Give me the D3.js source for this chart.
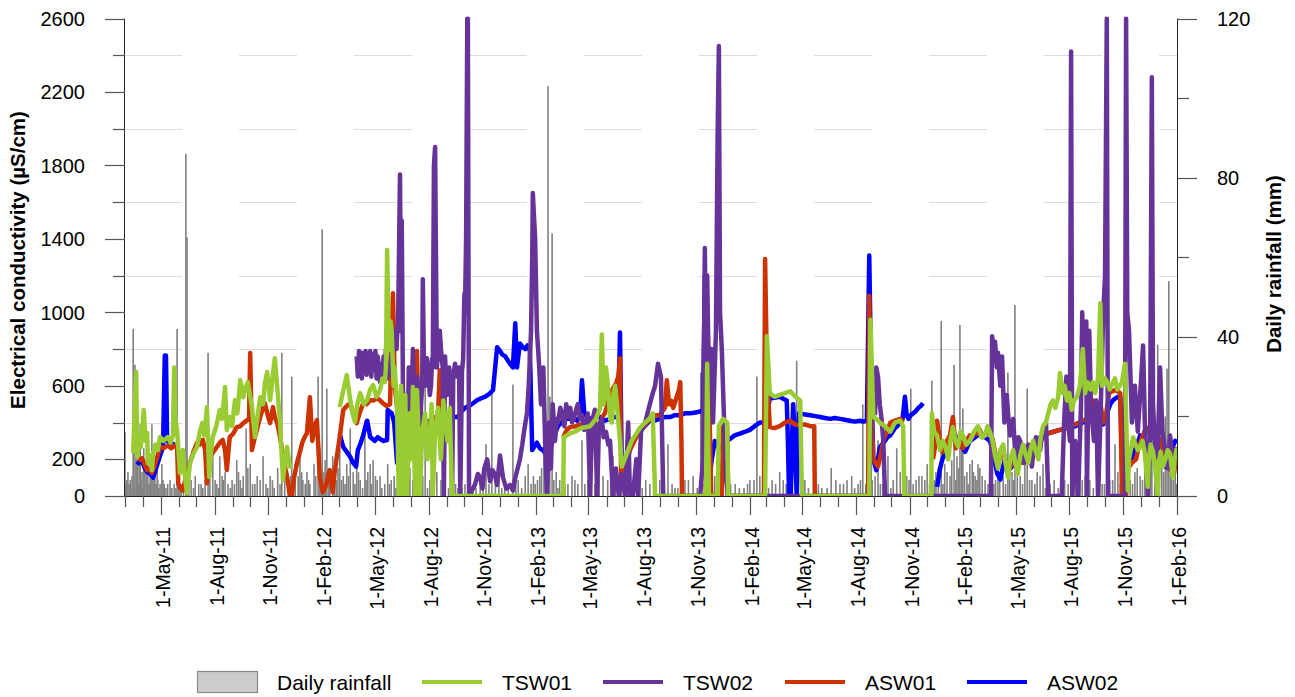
<!DOCTYPE html>
<html><head><meta charset="utf-8">
<script src="https://cdn.jsdelivr.net/npm/d3@7"></script>
<style>body{margin:0;background:#fff}svg text{font-family:"Liberation Sans",Arial,sans-serif;fill:#000}</style>
</head><body><svg id="c" width="1295" height="697"></svg>
<script>
// ---------- data ----------
const startDate = "2011-03-01";
const endDate = "2016-02-01";
const ecTicksMajor = [0, 200, 600, 1000, 1400, 1800, 2200, 2600];
const ecTicksMinor = [400, 800, 1200, 1600, 2000, 2400];
const rainTicksMajor = [0, 40, 80, 120];
const rainTicksMinor = [20, 60, 100];
const seriesNames = ["TSW01", "TSW02", "ASW01", "ASW02"];
// daily rainfall: [days since 1-Mar-11, mm]
const rainfall = [[0,16],[1,3],[3,4],[5,6],[7,3],[9,4],[10,2],[12,5],[14,42],[15,2],[17,33],[19,12],[21,8],[23,3],[24,10],[26,18],[28,4],[29,6],[31,2],[32,12],[34,9],[36,7],[38,5],[39,14],[41,3],[43,7],[44,4],[46,18],[48,6],[50,5],[51,10],[53,3],[55,7],[56,4],[58,2],[60,3],[63,8],[65,4],[67,3],[70,2],[73,3],[77,4],[80,2],[84,3],[87,2],[89,42],[92,5],[94,3],[96,3],[100,4],[104,86],[106,65],[109,8],[113,4],[117,2],[120,5],[126,3],[130,3],[133,2],[137,4],[142,36],[145,6],[150,12],[154,4],[157,3],[160,2],[162,10],[166,5],[168,4],[171,6],[176,3],[180,2],[183,4],[187,3],[191,9],[194,6],[197,4],[200,2],[202,5],[207,17],[210,7],[214,8],[218,3],[222,3],[226,5],[231,4],[236,10],[241,3],[244,2],[248,5],[252,4],[255,2],[261,7],[265,3],[268,36],[273,6],[279,4],[283,5],[285,30],[288,3],[291,8],[296,5],[299,10],[302,6],[304,4],[308,3],[311,6],[314,4],[316,3],[323,8],[326,5],[330,30],[333,12],[335,3],[337,67],[340,6],[342,9],[345,27],[348,4],[350,6],[355,10],[358,3],[361,4],[364,7],[367,12],[370,4],[373,5],[376,3],[379,8],[382,5],[385,17],[390,6],[393,3],[396,10],[399,6],[402,4],[406,2],[410,19],[412,4],[415,6],[419,8],[421,3],[424,9],[428,5],[431,4],[436,5],[439,2],[444,3],[449,8],[452,3],[455,4],[460,5],[463,2],[466,4],[470,3],[475,3],[479,5],[483,2],[487,7],[492,4],[496,3],[500,3],[504,9],[509,5],[513,28],[517,2],[521,4],[528,3],[533,6],[540,4],[547,3],[553,2],[559,4],[565,3],[569,2],[576,2],[581,3],[586,4],[590,6],[595,3],[600,2],[607,4],[612,5],[617,13],[622,3],[627,28],[633,4],[639,9],[644,2],[649,3],[655,3],[663,28],[668,4],[672,4],[678,2],[684,5],[689,8],[694,3],[698,5],[701,3],[705,4],[709,5],[712,7],[716,16],[719,3],[723,103],[726,25],[730,66],[733,4],[737,6],[740,2],[743,4],[748,5],[752,3],[757,3],[764,5],[769,4],[774,3],[781,14],[786,3],[791,4],[797,2],[803,3],[810,4],[817,5],[825,4],[830,3],[834,10],[838,2],[843,3],[849,8],[855,3],[863,2],[870,2],[875,3],[880,3],[884,2],[890,4],[897,3],[905,2],[914,4],[921,3],[928,13],[935,3],[940,2],[945,2],[950,3],[957,4],[963,4],[971,5],[978,2],[984,31],[990,3],[993,4],[998,4],[1003,5],[1008,5],[1013,3],[1020,2],[1027,2],[1035,3],[1043,3],[1050,2],[1058,2],[1064,3],[1068,4],[1075,4],[1080,30],[1085,5],[1094,3],[1100,2],[1106,4],[1112,3],[1119,6],[1125,4],[1130,3],[1140,2],[1148,34],[1155,3],[1162,4],[1168,2],[1179,3],[1185,3],[1191,2],[1200,2],[1207,7],[1215,4],[1222,3],[1228,3],[1234,4],[1242,5],[1247,2],[1253,3],[1257,4],[1261,23],[1266,3],[1270,6],[1277,4],[1282,5],[1287,14],[1291,3],[1295,3],[1300,4],[1304,10],[1309,2],[1313,4],[1319,12],[1325,6],[1330,3],[1336,5],[1340,4],[1343,27],[1347,3],[1352,4],[1357,5],[1362,5],[1367,4],[1371,8],[1375,3],[1379,29],[1383,4],[1386,6],[1390,7],[1395,44],[1398,3],[1401,8],[1405,6],[1410,5],[1413,9],[1417,33],[1420,4],[1422,10],[1425,7],[1427,43],[1430,12],[1432,22],[1435,5],[1439,6],[1441,3],[1444,8],[1448,9],[1450,6],[1453,5],[1456,4],[1458,8],[1461,7],[1465,5],[1470,4],[1475,3],[1478,6],[1481,7],[1485,3],[1488,4],[1492,10],[1495,6],[1501,5],[1505,3],[1509,31],[1512,8],[1516,6],[1519,4],[1521,48],[1525,5],[1530,5],[1534,3],[1538,9],[1542,27],[1546,4],[1550,4],[1555,3],[1559,6],[1564,5],[1569,8],[1573,2],[1577,3],[1581,3],[1588,4],[1595,2],[1601,6],[1606,4],[1612,3],[1618,3],[1624,4],[1628,2],[1632,3],[1636,4],[1641,5],[1645,3],[1649,4],[1655,2],[1661,11],[1666,5],[1670,3],[1674,3],[1678,9],[1683,4],[1688,4],[1692,13],[1697,6],[1701,3],[1704,3],[1709,5],[1713,4],[1718,4],[1722,3],[1726,6],[1730,7],[1735,5],[1739,4],[1743,8],[1747,5],[1752,34],[1755,9],[1760,6],[1762,4],[1765,38],[1768,12],[1772,10],[1775,6],[1778,20],[1781,32],[1784,54],[1787,7],[1789,5],[1792,4],[1795,8],[1797,3]];
// electrical conductivity series: [days since 1-Mar-11, uS/cm], null = gap
const tsw01 = [[14,235],[19,675],[21,212],[24,300],[27,267],[30,380],[32,468],[35,300],[38,343],[39,180],[43,220],[46,141],[48,234],[52,280],[56,250],[60,321],[66,300],[73,321],[78,290],[82,330],[84,700],[86,420],[89,359],[94,125],[99,250],[102,120],[106,16],[111,180],[117,230],[123,267],[128,350],[132,397],[136,330],[140,484],[142,300],[144,103],[147,240],[150,321],[156,380],[162,468],[166,420],[171,593],[174,359],[179,430],[183,380],[188,522],[192,450],[197,631],[202,538],[206,590],[210,620],[214,540],[217,484],[222,321],[226,420],[231,538],[236,500],[239,610],[243,675],[248,522],[252,640],[256,750],[261,560],[265,400],[270,87],[274,200],[277,267],[282,150],[283,null],
[367,484],[372,560],[379,658],[385,522],[389,450],[393,403],[397,500],[402,560],[408,500],[414,522],[419,580],[424,604],[430,540],[436,577],[440,640],[444,620],[446,700],[448,1340],[451,794],[454,950],[456,887],[459,600],[461,700],[465,484],[468,0],[470,420],[472,600],[474,200],[475,0],[479,550],[482,0],[485,300],[487,450],[490,200],[492,593],[494,300],[496,0],[499,577],[502,300],[504,0],[508,350],[513,450],[517,200],[521,300],[524,500],[526,0],[530,350],[535,480],[540,200],[544,520],[547,430],[551,300],[555,480],[559,0],[749,0],[750,320],[760,340],[769,350],[780,370],[795,380],[805,420],[812,480],[815,880],[818,500],[822,700],[825,620],[829,420],[832,400],[835,560],[838,600],[842,450],[846,300],[849,160],[854,200],[860,250],[866,300],[872,330],[880,370],[889,400],[896,420],[902,450],[906,0],[993,0],[995,720],[998,0],[1013,0],[1015,380],[1022,420],[1029,400],[1031,0],[1094,0],[1097,870],[1102,560],[1110,540],[1119,550],[1128,560],[1137,570],[1146,540],[1154,520],[1157,0],[1272,0],[1274,960],[1279,430],[1284,420],[1290,400],[1299,380],[1308,350],[1316,400],[1325,410],[1330,380],[1332,0],[1378,0],[1379,450],[1383,350],[1388,330],[1393,250],[1398,300],[1403,260],[1407,200],[1411,310],[1415,375],[1419,300],[1424,270],[1428,350],[1432,330],[1438,280],[1444,300],[1451,350],[1458,380],[1464,320],[1470,330],[1474,380],[1478,350],[1483,300],[1487,220],[1492,150],[1496,250],[1501,280],[1505,180],[1509,100],[1513,200],[1518,250],[1522,170],[1526,120],[1530,220],[1535,280],[1539,230],[1544,180],[1548,260],[1552,300],[1556,250],[1561,200],[1565,320],[1569,380],[1574,400],[1578,450],[1582,500],[1586,520],[1590,480],[1595,540],[1598,670],[1603,560],[1606,600],[1610,520],[1614,560],[1618,470],[1622,520],[1627,540],[1632,600],[1637,800],[1641,560],[1645,620],[1650,580],[1654,620],[1658,560],[1663,640],[1667,1050],[1670,600],[1675,640],[1679,620],[1683,580],[1687,610],[1692,640],[1696,580],[1700,600],[1704,620],[1709,720],[1714,30],[1716,200],[1719,250],[1723,320],[1726,290],[1731,250],[1735,270],[1739,300],[1743,230],[1748,50],[1750,200],[1753,280],[1757,240],[1760,180],[1765,0],[1767,180],[1770,240],[1774,160],[1778,200],[1782,250],[1786,230],[1791,100],[1794,200],[1798,260]];
const tsw02 = [[396,760],[398,650],[400,790],[402,680],[404,780],[405,640],[407,770],[409,690],[411,790],[413,660],[415,760],[417,700],[419,790],[421,650],[423,770],[426,690],[428,790],[430,640],[432,760],[434,700],[436,620],[438,720],[440,650],[442,760],[444,700],[446,800],[448,640],[451,720],[453,660],[456,760],[458,850],[461,900],[464,800],[467,1000],[470,1750],[472,900],[473,1500],[475,600],[479,0],[482,0],[485,700],[487,450],[489,400],[491,650],[492,800],[494,550],[496,500],[499,650],[501,600],[504,250],[506,500],[508,600],[509,1180],[511,700],[513,600],[516,750],[518,700],[521,550],[523,600],[525,750],[526,700],[528,1800],[530,1900],[533,700],[536,800],[538,900],[540,800],[543,700],[545,0],[547,760],[550,550],[554,700],[557,600],[559,0],[561,650],[564,720],[568,650],[571,700],[573,0],[576,680],[578,750],[580,1100],[581,1000],[583,1400],[585,2600],[586,2600],[588,0],[598,60],[603,120],[607,100],[611,40],[614,150],[619,200],[624,80],[628,140],[632,120],[636,60],[641,220],[646,100],[652,40],[658,60],[663,30],[667,100],[671,150],[675,200],[679,280],[682,350],[687,450],[690,600],[694,900],[696,1300],[697,1650],[701,1400],[704,900],[708,700],[711,500],[715,700],[718,300],[721,0],[725,400],[728,150],[731,500],[735,300],[738,420],[740,400],[744,480],[747,450],[751,380],[754,500],[757,430],[761,480],[764,400],[767,420],[771,470],[774,500],[778,420],[781,440],[785,360],[788,380],[791,450],[795,0],[798,400],[803,470],[807,0],[810,380],[815,420],[818,320],[822,350],[826,280],[829,300],[834,0],[839,150],[844,0],[849,120],[855,0],[860,400],[863,0],[868,0],[874,200],[877,0],[882,350],[886,380],[889,400],[893,450],[897,500],[902,560],[906,600],[911,720],[916,650],[920,0],[983,0],[988,200],[991,1350],[993,800],[995,1200],[998,600],[1002,800],[1005,400],[1010,900],[1013,2000],[1015,2450],[1017,1000],[1020,800],[1024,400],[1027,100],[1031,0],[1272,0],[1275,400],[1278,550],[1280,600],[1282,450],[1284,700],[1287,650],[1290,500],[1293,420],[1296,300],[1299,0],[1480,0],[1482,870],[1485,800],[1487,840],[1490,700],[1492,780],[1496,600],[1499,760],[1503,400],[1507,550],[1510,420],[1513,330],[1518,420],[1521,260],[1524,200],[1527,320],[1530,300],[1533,200],[1537,180],[1540,260],[1544,280],[1547,200],[1550,160],[1553,260],[1557,320],[1560,240],[1564,250],[1567,320],[1569,350],[1574,400],[1578,0],[1601,0],[1605,400],[1609,650],[1612,400],[1615,300],[1617,2420],[1619,0],[1624,300],[1629,0],[1634,500],[1636,1000],[1639,700],[1643,950],[1644,0],[1648,900],[1651,500],[1656,300],[1660,520],[1663,0],[1667,400],[1672,1000],[1675,1200],[1678,2600],[1680,0],[1709,0],[1711,2600],[1713,1000],[1716,900],[1721,400],[1726,600],[1731,350],[1737,650],[1740,820],[1743,400],[1748,0],[1752,300],[1755,2280],[1757,500],[1760,300],[1764,100],[1769,700],[1773,350],[1778,250],[1783,150],[1786,330],[1791,200],[1798,260]];
const asw01 = [[22,195],[29,205],[34,170],[38,140],[42,150],[46,125],[50,160],[55,210],[60,270],[66,260],[73,275],[79,260],[85,275],[89,270],[91,70],[95,40],[99,30],[104,100],[107,140],[111,180],[117,240],[123,290],[128,280],[133,305],[137,250],[140,70],[145,212],[151,240],[157,267],[162,290],[167,305],[171,250],[174,141],[179,321],[185,340],[191,375],[197,380],[202,397],[209,413],[212,420],[214,778],[217,250],[222,321],[227,380],[231,430],[235,470],[239,505],[244,440],[248,397],[253,484],[256,430],[260,400],[265,321],[271,200],[277,103],[282,0],[285,0],[289,100],[294,180],[299,240],[303,290],[307,320],[311,343],[316,538],[320,300],[324,380],[328,413],[333,103],[338,20],[344,60],[347,110],[350,141],[355,20],[358,120],[362,212],[367,321],[373,468],[379,490],[385,505],[390,450],[396,397],[401,450],[407,505],[413,500],[419,522],[425,520],[431,533],[436,520],[441,505],[447,490],[453,500],[456,900],[458,1104],[461,600],[465,484],[470,200],[475,450],[478,300],[482,350],[487,420],[494,400],[497,200],[499,790],[502,300],[504,250],[509,375],[513,390],[518,400],[522,380],[526,420],[531,430],[535,440],[538,685],[541,460],[543,450],[548,430],[552,440],[556,420],[561,430],[562,null],
[749,320],[755,360],[761,375],[770,380],[778,390],[786,370],[795,360],[801,380],[807,370],[812,400],[816,430],[820,450],[825,500],[829,550],[833,580],[837,600],[840,620],[843,650],[846,750],[848,100],[851,120],[855,150],[859,200],[863,250],[869,290],[875,330],[882,360],[889,390],[895,410],[902,430],[908,440],[914,440],[918,460],[923,480],[926,630],[930,500],[933,520],[937,480],[941,520],[944,550],[947,580],[949,620],[951,300],[952,0],[993,0],[995,1040],[998,600],[1002,0],[1020,0],[1022,400],[1029,380],[1031,0],[1092,0],[1094,1290],[1097,700],[1102,375],[1110,370],[1119,380],[1128,400],[1137,410],[1145,390],[1154,385],[1162,390],[1171,380],[1178,380],[1179,0],[1270,0],[1272,1090],[1275,500],[1279,200],[1283,180],[1287,160],[1292,230],[1296,300],[1302,350],[1308,400],[1316,410],[1325,420],[1330,400],[1331,null],
[1381,200],[1385,280],[1388,410],[1393,300],[1397,240],[1401,260],[1405,300],[1410,330],[1415,430],[1420,260],[1424,290],[1427,300],[1432,260],[1436,280],[1440,310],[1444,330],[1448,320],[1453,350],[1457,340],[1461,360],[1466,320],[1470,330],[1474,360],[1478,340],[1483,310],[1487,240],[1492,160],[1496,220],[1501,250],[1505,180],[1509,120],[1515,180],[1521,220],[1527,200],[1533,180],[1540,220],[1547,250],[1555,280],[1564,300],[1570,320],[1576,340],[1587,350],[1598,360],[1611,370],[1624,390],[1637,410],[1650,430],[1655,520],[1660,500],[1667,505],[1672,400],[1677,450],[1682,560],[1687,570],[1692,577],[1697,570],[1701,560],[1704,0],[1711,0],[1714,150],[1721,180],[1728,200],[1732,260],[1736,300],[1741,340],[1745,375],[1749,350],[1752,330],[1757,320],[1762,340],[1766,320],[1770,300],[1774,250],[1777,195],[1781,170],[1784,150],[1788,140],[1793,125],[1796,200],[1798,265]];
const asw02 = [[21,170],[27,200],[30,180],[34,150],[38,130],[43,120],[48,100],[52,140],[55,170],[60,220],[65,265],[68,765],[70,765],[72,300],[77,290],[85,280],[86,null],
[367,340],[370,300],[373,267],[379,240],[385,212],[390,180],[395,160],[398,250],[403,290],[407,330],[411,380],[414,410],[419,321],[423,310],[427,300],[432,320],[436,310],[442,300],[448,305],[449,468],[452,460],[456,450],[460,400],[465,180],[470,300],[475,280],[479,250],[483,270],[487,300],[492,330],[496,350],[500,360],[504,380],[509,390],[513,400],[517,400],[521,410],[530,420],[538,430],[547,440],[555,440],[562,430],[569,430],[575,460],[581,480],[588,490],[595,505],[601,520],[607,530],[611,535],[615,540],[620,550],[624,560],[629,577],[636,810],[641,790],[645,770],[650,760],[654,740],[658,720],[663,700],[667,940],[670,700],[673,780],[675,830],[680,810],[684,800],[688,820],[692,790],[696,250],[700,270],[704,290],[709,260],[714,250],[719,230],[723,212],[727,260],[731,300],[735,340],[740,380],[746,400],[752,420],[760,420],[769,420],[773,410],[778,430],[781,630],[785,450],[790,430],[795,420],[803,430],[812,430],[820,410],[829,420],[836,430],[843,430],[846,890],[849,160],[856,210],[863,260],[871,310],[880,350],[888,380],[897,410],[905,410],[914,420],[923,430],[932,430],[940,440],[949,440],[957,450],[966,450],[975,455],[983,460],[988,470],[991,1200],[995,400],[999,100],[1003,200],[1008,300],[1012,280],[1017,250],[1022,290],[1028,300],[1034,310],[1042,330],[1051,340],[1060,350],[1068,360],[1076,380],[1085,400],[1094,400],[1098,460],[1102,530],[1110,535],[1119,540],[1125,530],[1131,520],[1133,300],[1135,0],[1138,0],[1140,300],[1142,500],[1145,300],[1148,0],[1150,200],[1152,450],[1160,445],[1171,440],[1180,435],[1188,430],[1196,425],[1205,420],[1213,425],[1222,420],[1230,415],[1239,410],[1247,405],[1256,410],[1262,405],[1268,410],[1272,1310],[1275,700],[1279,200],[1284,140],[1287,200],[1290,265],[1294,280],[1299,300],[1303,320],[1308,330],[1312,350],[1316,370],[1320,380],[1325,400],[1329,420],[1333,540],[1336,440],[1339,420],[1343,440],[1347,450],[1351,460],[1356,480],[1360,490],[1364,505],[1365,null],
[1388,50],[1393,150],[1397,200],[1401,230],[1405,270],[1410,300],[1414,320],[1419,330],[1423,300],[1427,280],[1432,260],[1436,240],[1440,270],[1444,300],[1449,310],[1453,320],[1457,330],[1461,340],[1466,330],[1470,320],[1474,310],[1478,300],[1483,250],[1487,180],[1491,120],[1496,90],[1500,150],[1504,200],[1508,170],[1513,150],[1521,180],[1530,200],[1538,230],[1547,250],[1555,290],[1564,320],[1570,330],[1576,340],[1587,350],[1598,360],[1611,370],[1624,380],[1637,400],[1650,420],[1655,430],[1663,420],[1668,410],[1672,390],[1678,450],[1684,500],[1688,520],[1692,530],[1697,540],[1701,540],[1704,200],[1709,250],[1714,200],[1718,180],[1722,220],[1726,250],[1731,290],[1735,330],[1739,320],[1743,300],[1748,270],[1752,250],[1756,270],[1760,280],[1765,250],[1769,230],[1774,190],[1778,160],[1782,200],[1786,240],[1791,270],[1795,300],[1798,290]];
const seriesColors = {TSW01:"#99cc33", TSW02:"#663399", ASW01:"#cc3300", ASW02:"#0000ff"};

// ---------- chart ----------
const svg = d3.select("#c");
const L = 125, R = 1177, T = 18.5, B = 496;
const t0 = d3.utcParse("%Y-%m-%d")(startDate), t1 = d3.utcParse("%Y-%m-%d")(endDate);
const x = d3.scaleUtc().domain([t0, t1]).range([L, R]);
const y = d3.scaleLinear().domain([0, 2600]).range([B, T]);
const yr = d3.scaleLinear().domain([0, 120]).range([B, T]);
const dayDate = d => d3.utcDay.offset(t0, d);

// gridlines
svg.append("g").selectAll("line").data(ecTicksMinor).join("line")
  .attr("x1", L - 1).attr("x2", R).attr("y1", d => Math.round(y(d)) + 0.5).attr("y2", d => Math.round(y(d)) + 0.5)
  .attr("stroke", "#dcdcdc").attr("stroke-width", 1.2).attr("stroke-dasharray", "58 57");

svg.append("clipPath").attr("id", "clip").append("rect")
  .attr("x", L).attr("y", T - 2).attr("width", R - L).attr("height", B - T + 2);
const plot = svg.append("g").attr("clip-path", "url(#clip)");

// rainfall bars
plot.append("g").selectAll("rect").data(rainfall).join("rect")
  .attr("x", d => x(dayDate(d[0])) - 0.8).attr("width", 1.6)
  .attr("y", d => yr(d[1])).attr("height", d => B - yr(d[1]))
  .attr("fill", "#808080");

// EC lines (drawing order bottom -> top)
const line = d3.line().defined(d => d[1] !== null)
  .x(d => x(dayDate(d[0]))).y(d => y(d[1]));
const drawOrder = [["ASW02", asw02], ["ASW01", asw01], ["TSW02", tsw02], ["TSW01", tsw01]];
drawOrder.forEach(([name, data]) => {
  plot.append("path").datum(data).attr("d", line)
    .attr("fill", "none").attr("stroke", seriesColors[name])
    .attr("stroke-width", 4.5).attr("stroke-linejoin", "round").attr("stroke-linecap", "butt");
});

// axes
const axisCol = "#222", tickCol = "#555";
const ax = svg.append("g");
ax.append("line").attr("x1", L - 0.5).attr("x2", L - 0.5).attr("y1", T).attr("y2", B).attr("stroke", axisCol);
ax.append("line").attr("x1", R + 0.5).attr("x2", R + 0.5).attr("y1", T).attr("y2", B).attr("stroke", axisCol);
ax.append("line").attr("x1", L - 1).attr("x2", R + 1).attr("y1", B + 0.5).attr("y2", B + 0.5).attr("stroke", axisCol);

// left ticks
ax.selectAll(".lmaj").data(ecTicksMajor).join("line")
  .attr("x1", L - 20).attr("x2", L).attr("y1", d => Math.round(y(d)) + 0.5).attr("y2", d => Math.round(y(d)) + 0.5)
  .attr("stroke", tickCol).attr("stroke-width", 1.2);
ax.selectAll(".lmin").data(ecTicksMinor).join("line")
  .attr("x1", L - 12).attr("x2", L).attr("y1", d => Math.round(y(d)) + 0.5).attr("y2", d => Math.round(y(d)) + 0.5)
  .attr("stroke", tickCol).attr("stroke-width", 1.2);
ax.selectAll(".llab").data(ecTicksMajor).join("text")
  .attr("x", 85).attr("y", d => y(d)).attr("dy", "0.36em").attr("text-anchor", "end")
  .attr("font-size", 20).text(d => d);

// right ticks
ax.selectAll(".rmaj").data(rainTicksMajor).join("line")
  .attr("x1", R).attr("x2", R + 20).attr("y1", d => Math.round(yr(d)) + 0.5).attr("y2", d => Math.round(yr(d)) + 0.5)
  .attr("stroke", tickCol).attr("stroke-width", 1.2);
ax.selectAll(".rmin").data(rainTicksMinor).join("line")
  .attr("x1", R).attr("x2", R + 12).attr("y1", d => Math.round(yr(d)) + 0.5).attr("y2", d => Math.round(yr(d)) + 0.5)
  .attr("stroke", tickCol).attr("stroke-width", 1.2);
ax.selectAll(".rlab").data(rainTicksMajor).join("text")
  .attr("x", 1217).attr("y", d => yr(d)).attr("dy", "0.36em").attr("text-anchor", "start")
  .attr("font-size", 20).text(d => d);

// bottom ticks: monthly minor, quarterly major with labels
const months = d3.utcMonth.range(t0, d3.utcDay.offset(t1, 1));
const isMajor = d => [1, 4, 7, 10].includes(d.getUTCMonth());
ax.selectAll(".xt").data(months).join("line")
  .attr("x1", d => Math.round(x(d)) + 0.5).attr("x2", d => Math.round(x(d)) + 0.5)
  .attr("y1", B).attr("y2", d => isMajor(d) ? B + 19 : B + 11)
  .attr("stroke", tickCol).attr("stroke-width", 1.2);
const fmt = d3.utcFormat("%-d-%b-%y");
ax.selectAll(".xl").data(months.filter(isMajor)).join("text")
  .attr("transform", d => `translate(${x(d) + 9},527) rotate(-90)`)
  .attr("text-anchor", "end").attr("font-size", 19.5).text(d => fmt(d));

// axis titles
svg.append("text").attr("transform", "translate(25,260) rotate(-90)")
  .attr("text-anchor", "middle").attr("font-size", 20.5).attr("font-weight", "bold")
  .text("Electrical conductivity (µS/cm)");
svg.append("text").attr("transform", "translate(1281,264) rotate(-90)")
  .attr("text-anchor", "middle").attr("font-size", 20.5).attr("font-weight", "bold")
  .text("Daily rainfall (mm)");

// legend
const lg = svg.append("g");
lg.append("rect").attr("x", 197.5).attr("y", 671.5).attr("width", 60).attr("height", 21)
  .attr("fill", "#cccccc").attr("stroke", "#8a8a8a").attr("stroke-width", 1.2);
lg.append("text").attr("x", 277).attr("y", 682).attr("dy", "0.36em").attr("font-size", 21).text("Daily rainfall");
const legX = [422, 603, 785, 967];
seriesNames.forEach((n, i) => {
  lg.append("line").attr("x1", legX[i]).attr("x2", legX[i] + 60).attr("y1", 682).attr("y2", 682)
    .attr("stroke", seriesColors[n]).attr("stroke-width", 4);
  lg.append("text").attr("x", legX[i] + 80).attr("y", 682).attr("dy", "0.36em").attr("font-size", 21).text(n);
});
</script></body></html>
